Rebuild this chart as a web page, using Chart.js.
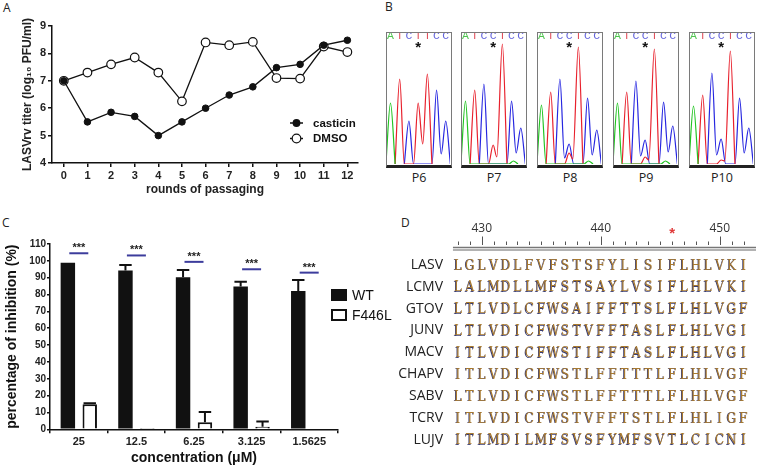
<!DOCTYPE html>
<html>
<head>
<meta charset="utf-8">
<title>Casticin passaging figure</title>
<script src="https://cdn.jsdelivr.net/npm/chart.js@4.4.1/dist/chart.umd.min.js"></script>
<style>
  body { margin:0; background:#fff; width:760px; height:468px; overflow:hidden; position:relative; font-family:'Open Sans', sans-serif; }
  canvas { position:absolute; }
  .tag { position:absolute; font-size:12px; color:#222; line-height:14px; }
  .trace { position:absolute; top:32px; width:66px; height:136px; box-sizing:border-box; border:1.5px solid #7a7a7a; border-bottom:3px solid #222; }
  .trace canvas { left:0; top:0; }
  .plabel { position:absolute; top:170px; width:66px; text-align:center; font-size:12.5px; color:#222; line-height:16px; }
</style>
</head>
<body>

<div class="tag" style="left:3px;top:1px">A</div>
<div class="tag" style="left:385px;top:0px">B</div>
<div class="tag" style="left:2px;top:216px">C</div>
<div class="tag" style="left:401px;top:216px">D</div>

<canvas id="chartA" width="370" height="205" style="left:0;top:0"></canvas>
<canvas id="chartC" width="400" height="248" style="left:0;top:220px"></canvas>
<canvas id="chartD" width="370" height="248" style="left:390px;top:220px"></canvas>

<div class="trace" style="left:386px"><canvas id="tr6" width="63" height="131"></canvas></div>
<div class="trace" style="left:461px"><canvas id="tr7" width="63" height="131"></canvas></div>
<div class="trace" style="left:537px"><canvas id="tr8" width="63" height="131"></canvas></div>
<div class="trace" style="left:613px"><canvas id="tr9" width="63" height="131"></canvas></div>
<div class="trace" style="left:689px"><canvas id="tr10" width="63" height="131"></canvas></div>
<div class="plabel" style="left:386px">P6</div>
<div class="plabel" style="left:461px">P7</div>
<div class="plabel" style="left:537px">P8</div>
<div class="plabel" style="left:613px">P9</div>
<div class="plabel" style="left:689px">P10</div>

<script>
// ---- panel A: titers over passaging
var rounds = [0, 1, 2, 3, 4, 5, 6, 7, 8, 9, 10, 11, 12];
var casticinTiter = [7.0, 5.5, 5.85, 5.7, 5.0, 5.5, 6.0, 6.48, 6.78, 7.48, 7.6, 8.3, 8.48];
var dmsoTiter = [7.0, 7.3, 7.6, 7.85, 7.3, 6.25, 8.4, 8.3, 8.42, 7.1, 7.08, 8.25, 8.05];

// ---- panel B: chromatogram traces, [position, signal]
var seqP6 = 'ATCTTCC';
var seqP7to10 = 'ATCCTCC';
var p6A = [[-0.5,0],[0,61],[0.5,0]];
var p6T = [[0.5,0],[1,85],[1.5,0],[2.5,0],[3,61],[3.5,20],[4,90],[4.5,0]];
var p6C = [[1.5,0],[2,43],[2.5,0],[4.5,0],[5,74],[5.5,10],[6,43],[6.5,0]];
var p7A = [[-0.5,0],[0,63],[0.5,0],[4.7,0],[5.2,3],[5.7,0]];
var p7T = [[0.5,0],[1,74],[1.5,0],[2.5,0],[3,19],[3.4,7],[4,120],[4.5,0]];
var p7C = [[1.5,0],[2,80],[2.5,0],[4.5,0],[5,63],[5.5,11],[6,36],[6.5,0]];
var p8A = [[-0.5,0],[0,59],[0.5,0],[4.6,0],[5.1,3],[5.6,0]];
var p8T = [[0.5,0],[1,72],[1.5,0],[2.5,0],[3,11],[3.4,5],[4,117],[4.5,0]];
var p8C = [[1.5,0],[2,85],[2.5,6],[3,20],[3.5,0],[4.5,0],[5,66],[5.5,9],[6,34],[6.5,0]];
var p9A = [[-0.5,0],[0,61],[0.5,0],[4.7,0],[5.2,3],[5.7,0]];
var p9T = [[0.5,0],[1,72],[1.5,0],[2.5,0],[3,7],[3.4,4],[4,115],[4.5,0]];
var p9C = [[1.5,0],[2,83],[2.5,8],[3,24],[3.5,0],[4.5,0],[5,62],[5.5,12],[6,38],[6.5,0]];
var p10A = [[-0.5,0],[0,58],[0.5,0]];
var p10T = [[0.5,0],[1,69],[1.5,0],[2.5,0],[3,4],[3.4,3],[4,113],[4.5,0]];
var p10C = [[1.5,0],[2,91],[2.5,9],[3,25],[3.5,0],[4.5,0],[5,66],[5.5,11],[6,36],[6.5,0]];

// ---- panel C: inhibition
var concentrations = ['25', '12.5', '6.25', '3.125', '1.5625'];
var wtInhib = [98.9, 94.2, 90.2, 84.7, 82.1];
var wtErr = [0, 3.3, 4.4, 2.9, 6.5];
var mutInhib = [14.8, 0.8, 4.2, 1.5, 0];
var mutErr = [0.6, 0, 6.1, 3.2, 0];
var sigLevel = [104.5, 103.2, 99.4, 95.0, 93.0];

// ---- panel D: alignment
var viruses = ['LASV', 'LCMV', 'GTOV', 'JUNV', 'MACV', 'CHAPV', 'SABV', 'TCRV', 'LUJV'];
var sequences = [
  'LGLVDLFVFSTSFYLISIFLHLVKI',
  'LALMDLLMFSTSAYLVSIFLHLVKI',
  'LTLVDLCFWSAIFFTTSLFLHLVGF',
  'LTLVDICFWSTVFFTASLFLHLVGI',
  'ITLVDICFWSTIFFTASLFLHLVGI',
  'ITLVDICFWSTLFFTTTLFLHLVGF',
  'LTLVDICFWSTLFFTTTLFLHLVGF',
  'ITLVDICFWSTVFFTSTLFLHLIGF',
  'ITLMDILMFSVSFYMFSVTLCICNI'
];
var firstResidue = 428;
var rulerLabels = [430, 440, 450];
var markedResidue = 446;

var SANS = "'Liberation Sans', Arial, sans-serif";

// ================= A
var legendA = {
  id: 'legendA',
  afterDraw: function (chart) {
    var c = chart.ctx;
    chart.data.datasets.forEach(function (ds, i) {
      var y = 123 + i * 15.5;
      c.save();
      c.strokeStyle = '#111';
      c.lineWidth = 1.5;
      c.beginPath(); c.moveTo(290, y); c.lineTo(303, y); c.stroke();
      c.beginPath(); c.arc(296.5, y, ds.pointRadius, 0, Math.PI * 2);
      c.fillStyle = ds.pointBackgroundColor; c.fill();
      c.lineWidth = 1.2; c.stroke();
      c.fillStyle = '#111';
      c.font = 'bold 11.5px ' + SANS;
      c.textBaseline = 'middle';
      c.fillText(ds.label, 313, y + 0.5);
      c.restore();
    });
  }
};

new Chart(document.getElementById('chartA'), {
  type: 'line',
  data: {
    datasets: [
      { label: 'casticin', data: rounds.map(function (r, i) { return { x: r, y: casticinTiter[i] }; }),
        borderColor: '#111', borderWidth: 1.3, pointRadius: 3.3, pointBackgroundColor: '#111', pointBorderColor: '#111', pointBorderWidth: 1 },
      { label: 'DMSO', data: rounds.map(function (r, i) { return { x: r, y: dmsoTiter[i] }; }),
        borderColor: '#111', borderWidth: 1.3, pointRadius: 4.3, pointBackgroundColor: '#fff', pointBorderColor: '#111', pointBorderWidth: 1.2 }
    ]
  },
  options: {
    responsive: false, animation: false, events: [],
    layout: { padding: { top: 26, right: 12, left: 0, bottom: 0 } },
    plugins: { legend: { display: false }, tooltip: { enabled: false } },
    scales: {
      x: {
        type: 'linear', min: -0.5, max: 12.45,
        afterBuildTicks: function (s) { s.ticks = rounds.map(function (r) { return { value: r }; }); },
        afterFit: function (s) { s.height = 42; },
        ticks: { color: '#222', font: { family: SANS, size: 11, weight: 'bold' }, padding: 2, maxRotation: 0 },
        grid: { drawOnChartArea: false, color: '#111', lineWidth: 1.5, tickLength: 4 },
        border: { color: '#111', width: 1.5 },
        title: { display: true, text: 'rounds of passaging', color: '#222', font: { family: SANS, size: 12, weight: 'bold' }, padding: { top: 0, bottom: 8 } }
      },
      y: {
        min: 4, max: 9,
        ticks: { stepSize: 1, color: '#222', font: { family: SANS, size: 11, weight: 'bold' }, padding: 2 },
        afterFit: function (s) { s.width = 52; },
        grid: { drawOnChartArea: false, color: '#111', lineWidth: 1.5, tickLength: 4 },
        border: { color: '#111', width: 1.5 },
        title: { display: true, text: 'LASVrv titer (log\u2081\u2080 PFU/ml)', color: '#222', font: { family: SANS, size: 12, weight: 'bold' }, padding: { top: 20, bottom: 0 } }
      }
    }
  },
  plugins: [legendA]
});

// ================= B
var baseColors = { A: '#4ec44e', T: '#e0505c', C: '#6464dc' };

var starPlugin = {
  id: 'star',
  afterDraw: function (chart) {
    var c = chart.ctx;
    var x = chart.scales.x.getPixelForValue(3);
    c.save();
    c.fillStyle = '#111';
    c.font = 'bold 15px ' + SANS;
    c.textAlign = 'center';
    c.textBaseline = 'middle';
    c.fillText('*', x, 15);
    c.restore();
  }
};

function pts(arr) { return arr.map(function (p) { return { x: p[0], y: p[1] }; }); }

function makeTrace(id, bases, tA, tT, tC) {
  new Chart(document.getElementById(id), {
    type: 'line',
    data: {
      datasets: [
        { data: pts(tA), borderColor: '#22c422' },
        { data: pts(tT), borderColor: '#e8202c' },
        { data: pts(tC), borderColor: '#2626e0' }
      ]
    },
    options: {
      responsive: false, animation: false, events: [],
      layout: { padding: 0 },
      elements: { point: { radius: 0 }, line: { borderWidth: 1.2, cubicInterpolationMode: 'monotone', fill: false } },
      plugins: { legend: { display: false }, tooltip: { enabled: false } },
      scales: {
        x: {
          type: 'linear', position: 'top', min: -0.38, max: 6.46,
          afterBuildTicks: function (s) { s.ticks = bases.split('').map(function (b, i) { return { value: i }; }); },
          afterFit: function (s) { s.height = 10; },
          ticks: {
            callback: function (v, i) { return bases[i]; },
            color: function (ctx) { return baseColors[bases[ctx.index]]; },
            font: { family: "'Liberation Mono', monospace", size: 11.5 }, padding: 0, maxRotation: 0, autoSkip: false
          },
          grid: { display: false, drawTicks: false },
          border: { display: false }
        },
        y: { display: false, min: 0, max: 121 }
      }
    },
    plugins: [starPlugin]
  });
}

makeTrace('tr6', seqP6, p6A, p6T, p6C);
makeTrace('tr7', seqP7to10, p7A, p7T, p7C);
makeTrace('tr8', seqP7to10, p8A, p8T, p8C);
makeTrace('tr9', seqP7to10, p9A, p9T, p9C);
makeTrace('tr10', seqP7to10, p10A, p10T, p10C);

// ================= C
var extrasC = {
  id: 'extrasC',
  afterDatasetsDraw: function (chart) {
    var c = chart.ctx;
    var ys = chart.scales.y;
    var xs = chart.scales.x;
    var errs = [wtErr, mutErr];
    c.save();
    c.strokeStyle = '#111';
    c.lineWidth = 2;
    chart.data.datasets.forEach(function (ds, di) {
      chart.getDatasetMeta(di).data.forEach(function (bar, j) {
        var e = errs[di][j];
        if (!e) return;
        var y0 = ys.getPixelForValue(ds.data[j]);
        var y1 = ys.getPixelForValue(ds.data[j] + e);
        var hw = bar.width / 2 - 1;
        c.beginPath();
        c.moveTo(bar.x, y0); c.lineTo(bar.x, y1);
        c.moveTo(bar.x - hw, y1); c.lineTo(bar.x + hw, y1);
        c.stroke();
      });
    });
    // significance marks
    sigLevel.forEach(function (v, j) {
      var x = xs.getPixelForValue(j);
      var y = ys.getPixelForValue(v);
      c.strokeStyle = '#3c3c9c';
      c.lineWidth = 2;
      c.beginPath(); c.moveTo(x - 9.5, y); c.lineTo(x + 9.5, y); c.stroke();
      c.fillStyle = '#222';
      c.font = 'bold 11px ' + SANS;
      c.textAlign = 'center';
      c.textBaseline = 'middle';
      c.fillText('***', x, y - 5);
    });
    // legend
    c.textAlign = 'left';
    c.font = '14px ' + SANS;
    c.fillStyle = '#111';
    c.fillRect(331, 69, 16, 12);
    c.fillText('WT', 352, 76);
    c.lineWidth = 2;
    c.strokeStyle = '#111';
    c.strokeRect(332, 90, 14, 10);
    c.fillText('F446L', 352, 96);
    c.restore();
  }
};

new Chart(document.getElementById('chartC'), {
  type: 'bar',
  data: {
    labels: concentrations,
    datasets: [
      { label: 'WT', data: wtInhib, backgroundColor: '#111', borderWidth: 0 },
      { label: 'F446L', data: mutInhib, backgroundColor: '#fff', borderColor: '#111', borderWidth: 2 }
    ]
  },
  options: {
    responsive: false, animation: false, events: [],
    layout: { padding: { top: 24, right: 62, left: 0, bottom: 0 } },
    plugins: { legend: { display: false }, tooltip: { enabled: false } },
    datasets: { bar: { categoryPercentage: 0.76, barPercentage: 0.66 } },
    scales: {
      x: {
        afterFit: function (s) { s.height = 38.7; },
        ticks: { color: '#222', font: { family: SANS, size: 11, weight: 'bold' }, padding: 2 },
        grid: { drawOnChartArea: false, color: '#111', lineWidth: 1.5, tickLength: 4 },
        border: { color: '#111', width: 1.5 },
        title: { display: true, text: 'concentration (\u03bcM)', color: '#111', font: { family: SANS, size: 14, weight: 'bold' }, padding: { top: 0, bottom: 1 } }
      },
      y: {
        min: 0, max: 110,
        ticks: { stepSize: 10, color: '#222', font: { family: SANS, size: 10, weight: 'bold' }, padding: 1 },
        afterFit: function (s) { s.width = 50; },
        grid: { drawOnChartArea: false, color: '#111', lineWidth: 1.5, tickLength: 3 },
        border: { color: '#111', width: 1.5 },
        title: { display: true, text: 'percentage of inhibition (%)', color: '#111', font: { family: SANS, size: 14, weight: 'bold' }, padding: { top: 4, bottom: 0 } }
      }
    }
  },
  plugins: [extrasC]
});

// ================= D
var alignPlugin = {
  id: 'align',
  afterDraw: function (chart) {
    var c = chart.ctx;
    var xs = chart.scales.x;
    var ys = chart.scales.y;
    c.save();
    // ruler ticks
    c.strokeStyle = '#555';
    c.lineWidth = 1;
    for (var r = firstResidue; r < firstResidue + sequences[0].length; r++) {
      var x = Math.round(xs.getPixelForValue(r)) + 0.5;
      c.beginPath();
      c.moveTo(x, r % 10 === 0 ? 16.5 : 21.5);
      c.lineTo(x, 25);
      c.stroke();
    }
    var xl = xs.getPixelForValue(firstResidue) - 5;
    c.strokeStyle = '#777'; c.lineWidth = 1.5;
    c.beginPath(); c.moveTo(xl, 27.5); c.lineTo(366, 27.5); c.stroke();
    c.strokeStyle = '#999'; c.lineWidth = 1.5;
    c.beginPath(); c.moveTo(xl, 30); c.lineTo(366, 30); c.stroke();
    // marked residue
    c.fillStyle = '#e03a3a';
    c.font = 'bold 15px ' + SANS;
    c.textAlign = 'center';
    c.textBaseline = 'middle';
    c.fillText('*', xs.getPixelForValue(markedResidue), 14);
    // sequences
    c.font = '14.5px "DejaVu Serif", serif';
    sequences.forEach(function (seq, row) {
      var y = ys.getPixelForValue(row);
      seq.split('').forEach(function (ch, i) {
        var x = xs.getPixelForValue(firstResidue + i);
        c.save();
        c.translate(x, y + 1);
        c.scale(0.84, 1);
        c.shadowColor = 'rgba(35,40,100,0.9)';
        c.shadowOffsetX = -0.7;
        c.shadowOffsetY = 0.5;
        c.fillStyle = '#a87a30';
        c.fillText(ch, 0, 0);
        c.restore();
      });
    });
    c.restore();
  }
};

new Chart(document.getElementById('chartD'), {
  type: 'scatter',
  data: { datasets: [{ data: [] }] },
  options: {
    responsive: false, animation: false, events: [],
    layout: { padding: { top: 0, right: 10.5, left: 0, bottom: 15 } },
    plugins: { legend: { display: false }, tooltip: { enabled: false } },
    scales: {
      x: {
        type: 'linear', position: 'top', min: firstResidue - 0.5, max: firstResidue + sequences[0].length - 0.5,
        afterBuildTicks: function (s) { s.ticks = rulerLabels.map(function (v) { return { value: v }; }); },
        afterFit: function (s) { s.height = 30; },
        ticks: { color: '#333', font: { family: "'Open Sans', sans-serif", size: 12 }, padding: 14, maxRotation: 0 },
        grid: { display: false, drawTicks: false },
        border: { display: false }
      },
      y: {
        type: 'linear', reverse: true, min: -0.68, max: 8.5,
        afterBuildTicks: function (s) { s.ticks = viruses.map(function (v, i) { return { value: i }; }); },
        afterFit: function (s) { s.width = 62; },
        ticks: { callback: function (v) { return viruses[v]; }, color: '#222', font: { family: "'Open Sans', sans-serif", size: 14 }, padding: 9 },
        grid: { display: false, drawTicks: false },
        border: { display: false }
      }
    }
  },
  plugins: [alignPlugin]
});
</script>

</body>
</html>
